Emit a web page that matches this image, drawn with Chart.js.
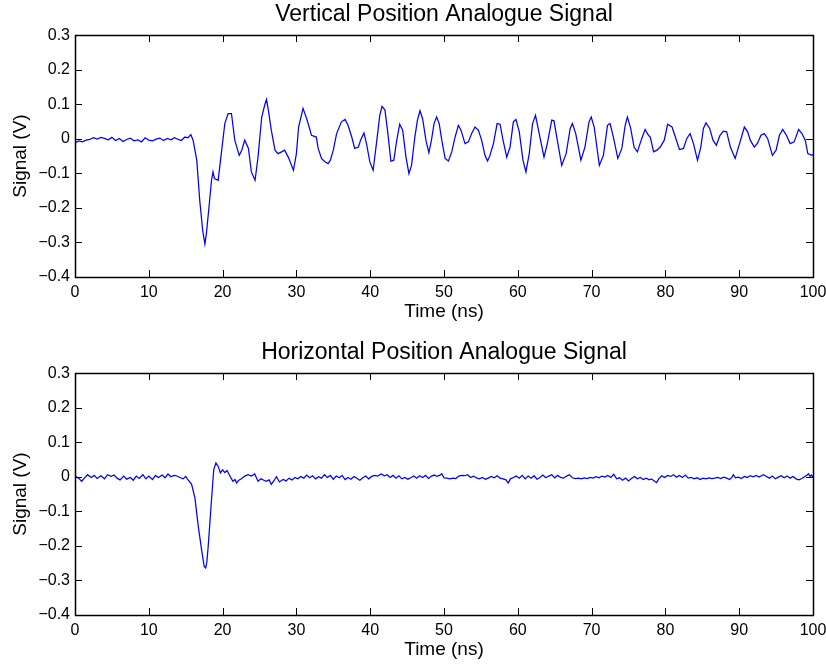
<!DOCTYPE html>
<html>
<head>
<meta charset="utf-8">
<script src="https://cdn.jsdelivr.net/npm/chart.js@4/dist/chart.umd.min.js"></script>
<style>
  html, body { margin: 0; padding: 0; background: #fff; overflow: hidden; }
  .plot { position: absolute; left: 0; width: 826px; height: 330px; }
  #topPlot { top: 0; }
  #bottomPlot { top: 338px; }
</style>
</head>
<body>
<div class="plot" id="topPlot"><canvas id="vertChart"></canvas></div>
<div class="plot" id="bottomPlot"><canvas id="horizChart"></canvas></div>
<script>
/* --------------------------------- Data --------------------------------- */
const timeRange = [0, 100];
const timeStep = 10;
const signalRange = [-0.4, 0.3];
const signalStep = 0.1;

const vertTitle = 'Vertical Position Analogue Signal';
const horizTitle = 'Horizontal Position Analogue Signal';

const vertTime = [
  0, 0.5, 1, 1.5, 2, 2.5, 3, 3.5, 4, 4.5, 5, 5.5, 6, 6.5, 7, 7.5, 8, 8.5, 9, 9.5,
  10, 10.5, 11, 11.5, 12, 12.5, 13, 13.5, 14, 14.4, 14.9, 15.3, 15.7, 16.0, 16.5, 16.9,
  17.3, 17.6, 17.8, 18.2, 18.5, 18.7, 18.9, 19.4, 19.85, 20.3, 20.75, 21.2, 21.65, 22.25,
  22.6, 23.0, 23.5, 23.9, 24.4, 24.8, 25.3, 25.7, 25.95, 26.2, 26.6, 27.1, 27.5, 28.0,
  28.4, 28.9, 29.6, 30.0, 30.3, 30.9, 31.4, 32.05, 32.7, 32.95, 33.4, 33.9, 34.3, 34.6,
  35.0, 35.45, 36.1, 36.6, 37.0, 37.5, 37.9, 38.4, 38.7, 39.15, 39.5, 39.95, 40.4, 40.9,
  41.3, 41.6, 42.0, 42.4, 42.8, 43.2, 43.6, 44.0, 44.4, 44.85, 45.25, 45.6, 46.05, 46.4,
  46.75, 47.1, 47.55, 47.95, 48.3, 48.65, 49.0, 49.35, 49.7, 50.15, 50.6, 51.05, 51.5,
  51.95, 52.3, 52.85, 53.3, 53.75, 54.2, 54.65, 55.1, 55.55, 55.9, 56.2, 56.7, 57.2, 57.6,
  57.95, 58.5, 58.95, 59.4, 59.75, 60.2, 60.7, 61.1, 61.55, 62.0, 62.4, 62.9, 63.55, 64.0,
  64.6, 64.9, 65.35, 65.95, 66.55, 67.1, 67.4, 67.85, 68.55, 69.1, 69.65, 69.95, 70.35,
  71.05, 71.6, 72.15, 72.5, 72.95, 73.55, 74.1, 74.55, 74.85, 75.3, 75.75, 76.2, 76.8,
  77.25, 77.7, 77.95, 78.4, 78.85, 79.3, 79.85, 80.3, 80.9, 81.35, 81.9, 82.45, 82.9,
  83.35, 83.8, 84.35, 84.8, 85.15, 85.5, 86.0, 86.45, 86.9, 87.4, 87.85, 88.3, 88.8,
  89.45, 90.05, 90.7, 91.15, 91.5, 92.05, 92.5, 92.95, 93.4, 93.85, 94.5, 95.0, 95.45,
  95.9, 96.4, 96.9, 97.45, 98.05, 98.5, 98.95, 99.3, 99.85, 100
];
const vertSignal = [
  -0.012, -0.006, -0.009, -0.004, -0.002, 0.003, -0.001, 0.004, 0.001, -0.003, 0.004, -0.005, 0.001, -0.008, -0.002, 0.002, -0.006, -0.003, -0.009, 0.003,
  -0.004, -0.006, -0.001, 0.002, -0.005, 0.001, -0.003, 0.003, -0.002, -0.005, 0.005, 0.003, 0.012, -0.004, -0.062, -0.178,
  -0.265, -0.304, -0.275, -0.188, -0.12, -0.096, -0.115, -0.12, -0.038, 0.044, 0.073, 0.073, -0.004, -0.048,
  -0.033, -0.004, -0.028, -0.096, -0.12, -0.053, 0.063, 0.097, 0.114, 0.083, 0.025, -0.033, -0.043, -0.038,
  -0.033, -0.053, -0.091, -0.043, 0.034, 0.088, 0.058, 0.01, 0.005, -0.028, -0.057, -0.067, -0.072, -0.062,
  -0.033, 0.015, 0.049, 0.056, 0.039, 0.005, -0.028, -0.024, -0.004, 0.017, -0.014, -0.067, -0.091, -0.004,
  0.068, 0.094, 0.083, 0.015, -0.065, -0.062, -0.004, 0.042, 0.025, -0.053, -0.101, -0.077, 0.005, 0.054,
  0.081, 0.058, -0.004, -0.04, -0.004, 0.044, 0.063, 0.044, -0.004, -0.057, -0.064, -0.038, 0.005,
  0.039, 0.025, -0.014, -0.009, 0.015, 0.034, 0.025, -0.004, -0.048, -0.064, -0.05, -0.014, 0.044, 0.042,
  0.001, -0.053, -0.024, 0.049, 0.056, 0.02, -0.062, -0.096, -0.043, 0.044, 0.068, 0.015, -0.053, -0.014,
  0.054, 0.052, -0.004, -0.077, -0.043, 0.03, 0.044, 0.015, -0.062, -0.024, 0.049, 0.063, 0.034,
  -0.077, -0.048, 0.039, 0.044, 0.005, -0.057, -0.028, 0.039, 0.063, 0.03, -0.024, -0.038, 0.001,
  0.027, 0.01, 0.005, -0.038, -0.033, -0.024, -0.004, 0.042, 0.034, 0.005, -0.031, -0.028, 0.001,
  0.015, -0.014, -0.062, -0.024, 0.03, 0.046, 0.03, -0.004, -0.019, 0.01, 0.022, 0.02, -0.024,
  -0.057, -0.014, 0.034, 0.02, -0.004, -0.024, -0.012, 0.01, 0.015, 0.001, -0.048, -0.033, 0.01,
  0.027, 0.01, -0.014, -0.009, 0.027, 0.015, -0.004, -0.043, -0.048, -0.045
];

const horizTime = [
  0, 0.5, 0.9, 1.3, 1.7, 2.2, 2.6, 3.0, 3.5, 4.0, 4.4, 4.9, 5.3, 5.7, 6.1, 6.6, 7.0, 7.5, 7.9, 8.3,
  8.7, 9.2, 9.6, 10.0, 10.5, 10.9, 11.3, 11.8, 12.2, 12.6, 13.0, 13.4, 13.75, 14.2, 14.65, 15.0,
  15.3, 15.8, 16.25, 16.7, 17.15, 17.5, 17.7, 17.85, 18.05, 18.5, 18.8, 19.1, 19.4, 19.7, 20.0,
  20.3, 20.6, 20.9, 21.15, 21.4, 21.7, 21.9, 22.2, 22.55, 23.0, 23.45, 23.9, 24.35, 24.8, 25.2,
  25.6, 25.9, 26.3, 26.6, 27.0, 27.3, 27.7, 28.2, 28.6, 29.0, 29.4, 29.8, 30.2, 30.6, 31.0, 31.4,
  31.8, 32.2, 32.6, 33.0, 33.4, 33.8, 34.2, 34.6, 35.0, 35.4, 35.8, 36.2, 36.6, 37.0, 37.4, 37.8,
  38.2, 38.6, 39.0, 39.4, 39.8, 40.2, 40.6, 41.0, 41.5, 41.9, 42.3, 42.7, 43.1, 43.5, 43.9, 44.3,
  44.7, 45.1, 45.5, 45.9, 46.3, 46.7, 47.1, 47.5, 47.9, 48.3, 48.7, 49.0, 49.4, 49.7, 50.0, 50.4,
  50.8, 51.2, 51.6, 52.0, 52.4, 52.8, 53.2, 53.6, 54.0, 54.4, 54.8, 55.2, 55.6, 56.0, 56.4, 56.8,
  57.2, 57.6, 58.0, 58.4, 58.7, 59.0, 59.4, 59.8, 60.2, 60.6, 61.0, 61.4, 61.8, 62.2, 62.6, 63.0,
  63.4, 63.8, 64.2, 64.6, 65.0, 65.4, 65.8, 66.2, 66.6, 67.0, 67.4, 67.8, 68.2, 68.6, 69.0, 69.4,
  69.8, 70.2, 70.6, 71.0, 71.4, 71.8, 72.2, 72.6, 73.0, 73.4, 73.8, 74.2, 74.6, 75.0, 75.4, 75.8,
  76.2, 76.6, 77.0, 77.4, 77.8, 78.1, 78.5, 78.8, 79.1, 79.5, 79.9, 80.3, 80.7, 81.1, 81.5, 81.9,
  82.3, 82.7, 83.1, 83.5, 83.9, 84.3, 84.7, 85.1, 85.5, 85.9, 86.3, 86.7, 87.1, 87.5, 87.9, 88.3,
  88.7, 89.0, 89.2, 89.5, 89.9, 90.3, 90.7, 91.1, 91.5, 91.9, 92.3, 92.7, 93.0, 93.3, 93.7, 94.1,
  94.5, 94.9, 95.3, 95.7, 96.1, 96.5, 96.9, 97.3, 97.7, 98.1, 98.5, 98.9, 99.2, 99.4, 99.6, 99.8, 100
];
const horizSignal = [
  0.002, -0.004, -0.013, -0.003, 0.006, -0.002, 0.004, -0.005, 0.003, -0.006, 0.006, 0.001, 0.005, -0.004, -0.009, 0.002, -0.007, -0.002, -0.01, 0.002,
  -0.005, 0.006, -0.006, 0.002, -0.008, 0.004, -0.002, 0.005, -0.003, 0.008, 0.0, 0.004, 0.003, -0.002, -0.006, 0.001,
  -0.008, -0.022, -0.061, -0.143, -0.211, -0.259, -0.264, -0.25, -0.201, -0.066, 0.021, 0.04, 0.03, 0.011, 0.02,
  0.012, 0.018, 0.006, -0.004, -0.013, -0.008, -0.018, -0.01, -0.006, 0.002, 0.006, 0.002, 0.008, -0.013, -0.006,
  -0.01, -0.013, -0.009, -0.022, -0.01, 0.0, -0.015, -0.008, -0.012, -0.004, -0.009, -0.002, -0.006, 0.001, -0.004, 0.005,
  -0.003, 0.003, -0.006, 0.0, -0.004, 0.006, -0.002, 0.004, -0.007, 0.002, -0.003, 0.004, -0.008, -0.002, -0.007, 0.001,
  -0.004, -0.01, -0.003, 0.002, -0.006, 0.001, 0.004, 0.002, 0.008, 0.003, 0.006, -0.002, 0.004, -0.004, 0.003, -0.006,
  -0.002, -0.007, -0.003, 0.002, -0.004, 0.003, -0.002, 0.004, -0.005, 0.002, 0.005, 0.001, 0.004, 0.009, -0.003, -0.004,
  -0.006, -0.004, -0.005, 0.002, 0.004, 0.003, 0.006, -0.002, 0.002, -0.003, -0.006, -0.002, -0.007, -0.004, 0.001, -0.003,
  0.003, -0.004, -0.006, -0.009, -0.018, -0.006, -0.002, 0.002, -0.004, 0.004, -0.006, 0.002, -0.004, 0.003, -0.007, -0.002,
  0.005, -0.003, 0.002, 0.006, -0.003, 0.004, -0.002, -0.004, 0.002, 0.006, -0.003, -0.005, -0.004, -0.006, -0.003, -0.005,
  -0.002, -0.004, 0.0, -0.003, 0.002, -0.001, 0.004, -0.002, 0.007, -0.006, -0.003, -0.01, -0.004, -0.012, -0.005, 0.001,
  -0.006, -0.002, -0.008, -0.004, -0.009, -0.006, -0.012, -0.017, -0.006, 0.003, -0.002, 0.004, 0.001, 0.006, -0.001, 0.004,
  -0.002, 0.005, -0.004, -0.002, -0.006, -0.003, -0.008, -0.004, -0.006, -0.003, -0.005, -0.004, -0.002, -0.005, -0.001, -0.004,
  -0.008, -0.002, 0.006, -0.003, -0.001, -0.005, 0.001, -0.002, 0.003, 0.0, 0.004, -0.001, 0.003, 0.006, 0.001, -0.004,
  0.002, -0.006, -0.001, 0.003, -0.003, 0.002, -0.004, 0.001, -0.006, -0.009, -0.005, 0.001, 0.005, 0.009, 0.001, 0.005, -0.001
];

/* ------------------------------ Plot helpers ----------------------------- */
const fontFamily = '"Liberation Sans", Arial, Helvetica, sans-serif';
const TICK_LEN = 7;
const AXIS_LEFT = 75;      // width reserved for y axis
const AXIS_BOTTOM = 53;    // height reserved for x axis
const RIGHT_GAP = 13;      // room for the "100" label

const formatSignal = (v) => {
  if (Math.abs(v) < 1e-9) return '0';
  return (v < 0 ? '\u2212' : '') + Math.abs(v).toFixed(1);
};

// MATLAB style box with inward ticks on all four sides
const boxPlugin = {
  id: 'matlabBox',
  afterDraw(chart) {
    const { ctx, chartArea: a, scales } = chart;
    ctx.save();
    ctx.strokeStyle = '#000';
    ctx.lineWidth = 1;
    ctx.beginPath();
    scales.x.ticks.forEach(t => {
      const px = Math.round(scales.x.getPixelForValue(t.value)) + 0.5;
      ctx.moveTo(px, a.bottom); ctx.lineTo(px, a.bottom - TICK_LEN);
      ctx.moveTo(px, a.top); ctx.lineTo(px, a.top + TICK_LEN);
    });
    scales.y.ticks.forEach(t => {
      const py = Math.round(scales.y.getPixelForValue(t.value)) + 0.5;
      ctx.moveTo(a.left, py); ctx.lineTo(a.left + TICK_LEN, py);
      ctx.moveTo(a.right, py); ctx.lineTo(a.right - TICK_LEN, py);
    });
    ctx.stroke();
    ctx.lineWidth = 1.5;
    ctx.strokeRect(Math.round(a.left) + 0.5, Math.round(a.top) + 0.5,
      Math.round(a.right - a.left), Math.round(a.bottom - a.top));
    ctx.restore();
  }
};

const makeChart = (canvasId, title, times, signal) => {
  return new Chart(document.getElementById(canvasId), {
    type: 'line',
    data: {
      datasets: [{
        data: times.map((t, i) => ({ x: t, y: signal[i] })),
        borderColor: '#0000ff',
        borderWidth: 1.25,
        pointRadius: 0,
        tension: 0,
        fill: false
      }]
    },
    options: {
      responsive: true,
      maintainAspectRatio: false,
      animation: false,
      layout: { padding: 0 },
      plugins: {
        legend: { display: false },
        tooltip: { enabled: false },
        title: {
          display: true,
          fullSize: false,   // centre over the plot box, like MATLAB
          text: title,
          color: '#000',
          font: { family: fontFamily, size: 23, weight: 'normal' },
          padding: { top: 0.5, bottom: 7 }
        }
      },
      scales: {
        x: {
          type: 'linear',
          min: timeRange[0],
          max: timeRange[1],
          grid: { display: false, drawTicks: false },
          border: { display: false },
          ticks: {
            stepSize: timeStep,
            color: '#000',
            padding: 6,
            maxRotation: 0,
            autoSkip: false,
            font: { family: fontFamily, size: 16 }
          },
          title: {
            display: true,
            text: 'Time (ns)',
            color: '#000',
            font: { family: fontFamily, size: 19 },
            padding: { top: 0, bottom: 7 }
          },
          afterFit: (scale) => {
            scale.height = AXIS_BOTTOM;
            scale.paddingLeft = 0;
            scale.paddingRight = RIGHT_GAP;
          }
        },
        y: {
          type: 'linear',
          min: signalRange[0],
          max: signalRange[1],
          grid: { display: false, drawTicks: false },
          border: { display: false },
          ticks: {
            stepSize: signalStep,
            color: '#000',
            padding: 5,
            font: { family: fontFamily, size: 16 },
            callback: (v) => formatSignal(v)
          },
          title: {
            display: true,
            text: 'Signal (V)',
            color: '#000',
            font: { family: fontFamily, size: 19 },
            padding: { top: 9, bottom: 0 }
          },
          afterFit: (scale) => { scale.width = AXIS_LEFT; }
        }
      }
    },
    plugins: [boxPlugin]
  });
};

/* ---------------------------------- MAIN --------------------------------- */
makeChart('vertChart', vertTitle, vertTime, vertSignal);
makeChart('horizChart', horizTitle, horizTime, horizSignal);
</script>
</body>
</html>
